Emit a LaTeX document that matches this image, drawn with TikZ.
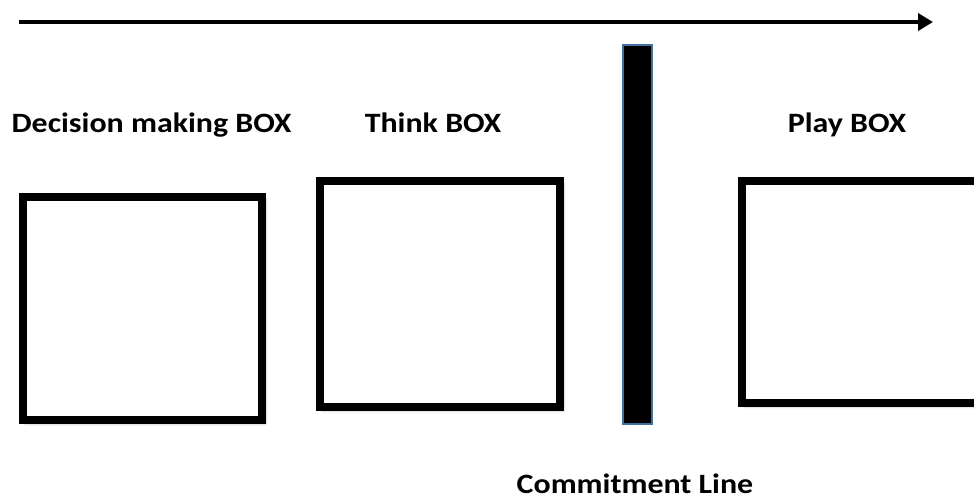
\documentclass[tikz,border=0pt]{standalone}
\usepackage{fontspec}
\setmainfont{Carlito}[FakeStretch=1.14]
\usetikzlibrary{arrows.meta,shadows.blur}
\definecolor{barblue}{RGB}{65,113,156}

\begin{document}
\begin{tikzpicture}[x=1pt,y=-1pt,
  box/.style={draw,line width=8pt,fill=white,inner sep=0pt,
    minimum width=239pt,minimum height=223pt,
    blur shadow={shadow xshift=3pt,shadow yshift=-3pt,shadow blur radius=3pt,shadow opacity=45}},
  boxlabel/.style={font=\bfseries\fontsize{28}{32}\selectfont,anchor=base,inner sep=0pt}]
\useasboundingbox (0,0) rectangle (974,499);
% time arrow
\coordinate (start) at (19,22);
\coordinate (stop) at (933,22);
\draw[line width=4pt,-{Triangle[length=15pt,width=17pt]}] (start) -- (stop);
% boxes
\node[box] (decide) at (142.5,308.5) {};
\node[box,minimum width=240pt,minimum height=226pt] (think) at (440,294) {};
\node[box,minimum width=240pt,minimum height=222pt] (play) at (862,292) {};
\node[boxlabel] (decide_label) at (151.5,132) {Decision making BOX};
\node[boxlabel] (think_label) at (433,132) {Think BOX};
\node[boxlabel] (play_label) at (847,132) {Play BOX};
% commitment line
\node[draw=barblue,line width=2pt,fill=black,inner sep=0pt,
  minimum width=29pt,minimum height=379pt] (commit) at (637.5,234.5) {};
\node[boxlabel] (commit_label) at (635,493) {Commitment Line};
\end{tikzpicture}
\end{document}
